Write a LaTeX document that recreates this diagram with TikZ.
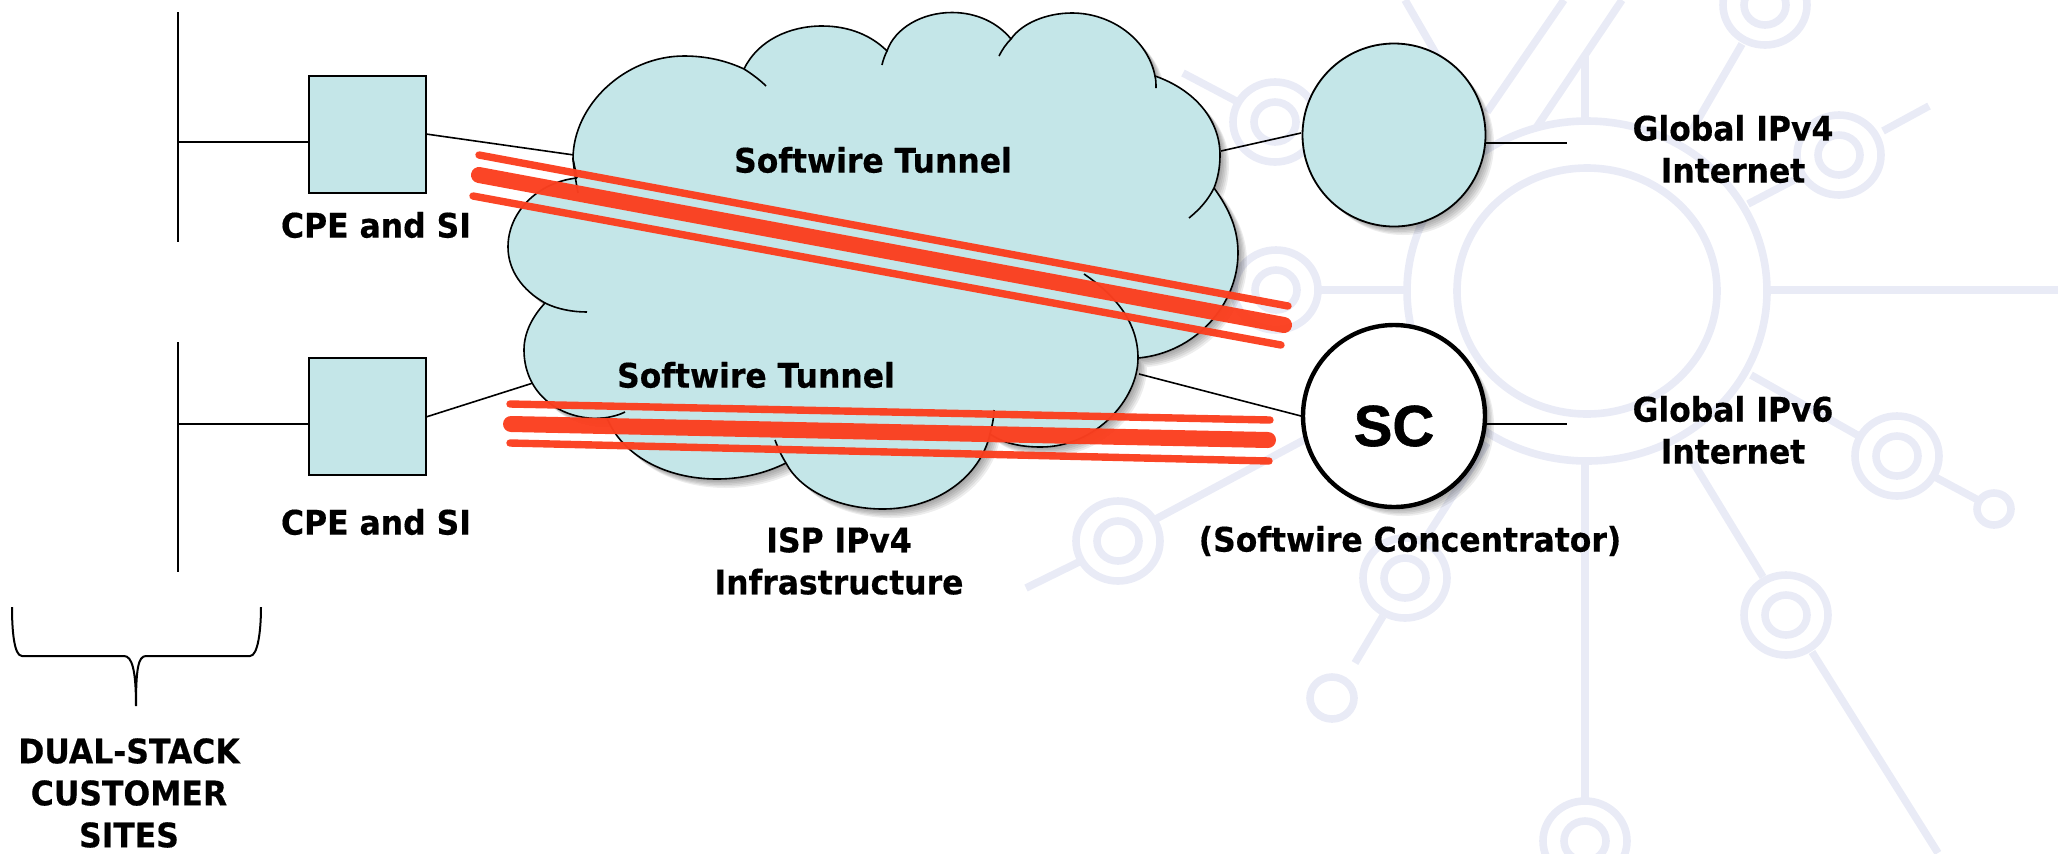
\documentclass[tikz,border=0pt]{standalone}
\usepackage{fontspec}
\setmainfont{DejaVu Sans}[FakeStretch=0.93,BoldFeatures={FakeStretch=0.93,FakeBold=0.4}]
\newfontfamily\scfont{Liberation Sans}[BoldFeatures={FakeBold=1}]
\definecolor{wm}{RGB}{233,235,246}
\definecolor{cloudc}{RGB}{196,230,232}
\definecolor{redc}{RGB}{251,63,31}
\newcommand{\cloudpath}{(577,178) -- (573,159) .. controls (573,105) and (625,56) .. (684,56) .. controls (707,56) and (727,61) .. (744,69)
 .. controls (758,40) and (790,26) .. (822,26) .. controls (850,26) and (872,36) .. (887,51)
 .. controls (895,28) and (922,12.5) .. (952,12.5) .. controls (977,12.5) and (998,23) .. (1011,39)
 .. controls (1022,23) and (1047,13) .. (1072,13) .. controls (1112,13) and (1148,40) .. (1155,76)
 .. controls (1195,90) and (1220,120) .. (1220,155) .. controls (1220,167) and (1218,178) .. (1214,188)
 .. controls (1230,210) and (1238,230) .. (1238,253) .. controls (1238,305) and (1195,353) .. (1138,358)
 .. controls (1138,400) and (1095,447) .. (1041,447) .. controls (1020,447) and (1003,443) .. (990,434)
 .. controls (980,478) and (935,509) .. (883,509) .. controls (838,509) and (800,490) .. (786,463)
 .. controls (766,473) and (742,479) .. (717,479) .. controls (665,479) and (622,455) .. (607,418)
 -- (597,418.5) .. controls (555,418) and (524,390) .. (524,350) .. controls (524,333) and (532,317) .. (545,303)
 .. controls (522,290) and (508,270) .. (508,247) .. controls (508,212) and (538,182) .. (577,178)}
\tikzset{
 wmline/.style={draw=wm,line width=3.8pt},
 wire/.style={draw=black,line width=0.8pt},
 redthin/.style={draw=redc,line width=3.7pt,line cap=round,opacity=.97},
 redthick/.style={draw=redc,line width=8pt,line cap=round,opacity=.97},
 boxnode/.style={draw=black,line width=0.8pt,fill=cloudc,minimum size=58.5pt,inner sep=0pt},
 roundnode/.style={circle,draw=black,line width=0.9pt,fill=cloudc,minimum size=91.5pt,inner sep=0pt},
 scnode/.style={circle,draw=black,line width=2.2pt,fill=white,minimum size=91pt,inner sep=0pt,font=\scfont\bfseries\fontsize{29}{32}\selectfont},
 textlab/.style={font=\bfseries\fontsize{16.9}{21}\selectfont,align=center,inner sep=0pt},
}
\newcommand{\wmring}[2]{
 \draw[wmline] (#1,#2) ellipse [x radius=42,y radius=40];
 \draw[wmline] (#1,#2) ellipse [x radius=21,y radius=20];}
\begin{document}
\begin{tikzpicture}[x=0.5pt,y=-0.5pt]
\useasboundingbox (0,0) rectangle (2063,853);
\clip (0,0) rectangle (2063,853);
% watermark
\draw[wmline] (1587,291) ellipse [x radius=130,y radius=123];
\draw[wmline] (1587,291) ellipse [x radius=180,y radius=170];
\foreach \a/\b in {1765/5,1839/155,1275/122,1276/290,1897/456,1118/541,1405/578,1786/615,1585/841}{\wmring{\a}{\b}}
\draw[wmline] (1994,509) ellipse [x radius=17,y radius=16];
\draw[wmline] (1332,698) ellipse [x radius=22,y radius=21];
\foreach \a/\b/\c/\d in {1767/290/2058/290,1318/290/1407/290,1183/73/1238/102,1405/0/1480/130,1564/0/1487/112,1622/0/1536/128,1585/54/1585/121,1742/44/1692/130,1883/131/1929/106,1794/180/1748/204,1859/436/1751/375,1935/477/1978/500,1763/577/1693/462,1812/652/1938/853,1585/461/1585/801,1154/520/1420/378,1425/539/1487/443,1383/616/1355/663,1026/588/1081/561}{\draw[wmline] (\a,\b) -- (\c,\d);}
% bus, wires
\coordinate (b1a) at (178,12); \coordinate (b1b) at (178,242);
\coordinate (b2a) at (178,342); \coordinate (b2b) at (178,572);
\coordinate (t1) at (178,142); \coordinate (t2) at (178,424);
\coordinate (c1) at (574,155); \coordinate (c2) at (533,383);
\coordinate (c3) at (1221,151); \coordinate (c4) at (1139,374);
\coordinate (e1) at (1567,143); \coordinate (e2) at (1567,424);
\coordinate (s1) at (426,134); \coordinate (s2) at (426,417);
\coordinate (r1) at (1301,133); \coordinate (r2) at (1301,416);
\coordinate (r3) at (1485,143); \coordinate (r4) at (1487,424);
\draw[wire] (b1a) -- (b1b);
\draw[wire] (b2a) -- (b2b);
% shadows
\foreach \s in {1.5,3,4.5,6,7.5,9}{
 \fill[black,opacity=.07,shift={(\s,\s)}] \cloudpath -- cycle;
 \fill[black,opacity=.07] (1394+\s,135+\s) circle [radius=91];
 \fill[black,opacity=.07] (1394+\s,416+\s) circle [radius=91];
}
% nodes
\node[boxnode] (sq1) at (367.5,134.5) {};
\node[boxnode] (sq2) at (367.5,416.5) {};
\draw[wire] (t1) -- (t1 -| sq1.west);
\draw[wire] (t2) -- (t2 -| sq2.west);
\draw[wire] (s1) -- (c1);
\draw[wire] (s2) -- (c2);
\draw[wire] (c3) -- (r1);
\draw[wire] (c4) -- (r2);
\draw[wire] (r3) -- (e1);
\draw[wire] (r4) -- (e2);
\node[roundnode] (gc) at (1394,135) {};
\node[scnode] (sc) at (1394,416) {\smash{\raisebox{-15pt}{SC}}};
% cloud
\fill[cloudc] \cloudpath -- cycle;
\draw[wire,line join=round] \cloudpath;
\draw[wire] (573,159) .. controls (574,170) and (576,182) .. (578,193);
\draw[wire] (744,69) .. controls (752,74) and (760,80) .. (766,86);
\draw[wire] (887,51) .. controls (885,55) and (883,60) .. (882,65);
\draw[wire] (1011,39) .. controls (1006,44) and (1002,50) .. (999,56);
\draw[wire] (1155,76) .. controls (1156,80) and (1156,84) .. (1156,88);
\draw[wire] (1214,188) .. controls (1208,200) and (1200,209) .. (1189,218);
\draw[wire] (1138,358) .. controls (1138,322) and (1115,295) .. (1084,274);
\draw[wire] (990,434) .. controls (992,426) and (994,418) .. (994,410);
\draw[wire] (786,463) .. controls (781,455) and (778,448) .. (775,440);
\draw[wire] (597,418.5) .. controls (607,418) and (617,416) .. (625,412);
\draw[wire] (545,303) .. controls (557,309) and (572,312) .. (587,312);
% labels
\node[textlab] (tun1) at (873,160) {Softwire Tunnel};
\node[textlab] (tun2) at (756,375) {Softwire Tunnel};
\node[textlab] (cpe1) at (376,225) {CPE and SI};
\node[textlab] (cpe2) at (376,522) {CPE and SI};
\node[textlab] (isp) at (839,561) {ISP IPv4\\Infrastructure};
\node[textlab] (g4) at (1733,149) {Global IPv4\\Internet};
\node[textlab] (g6) at (1733,430) {Global IPv6\\Internet};
\node[textlab] (conc) at (1410,541) {(Softwire Concentrator)};
\node[textlab] (dual) at (129,793) {DUAL-STACK\\CUSTOMER\\SITES};
% tunnels
\draw[redthin] (479,155) -- (1288,306);
\draw[redthick] (479,175) -- (1284,325);
\draw[redthin] (473,196) -- (1281,345);
\draw[redthin] (510,404) -- (1270,420);
\draw[redthick] (511,424) -- (1268,440);
\draw[redthin] (510,443) -- (1269,461);
% brace
\draw[wire,line width=1pt] (12,607) .. controls (12,630) and (14,656) .. (22,656) -- (124,656) .. controls (132,656) and (136,670) .. (136,706) .. controls (136,670) and (138,656) .. (146,656) -- (250,656) .. controls (258,656) and (261,630) .. (261,607);
\end{tikzpicture}
\end{document}
